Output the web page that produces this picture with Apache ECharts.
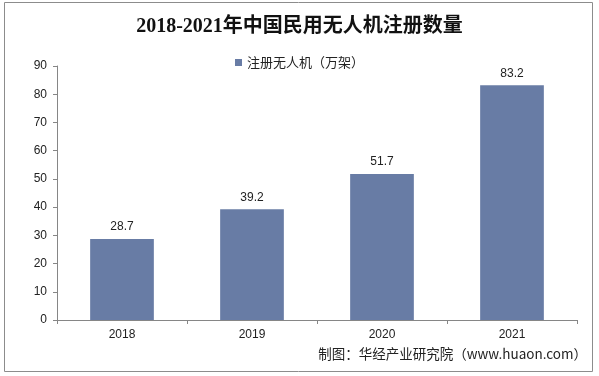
<!DOCTYPE html>
<html>
<head>
<meta charset="utf-8">
<script src="https://cdn.jsdelivr.net/npm/echarts@6/dist/echarts.min.js"></script>
<style>
  html, body { margin: 0; padding: 0; background: #fff; }
  #chart-container { width: 599px; height: 376px; }
</style>
</head>
<body>
<div id="chart-container"></div>
<script>
var years = ['2018', '2019', '2020', '2021'];
var registered = [28.7, 39.2, 51.7, 83.2];
var seriesName = '注册无人机（万架）';
var titleText = '2018-2021年中国民用无人机注册数量';
var sourceText = '制图：华经产业研究院（www.huaon.com）';

var dom = document.getElementById('chart-container');
var myChart = echarts.init(dom, null, { renderer: 'canvas' });

var option = {
  animation: false,
  title: {
    text: titleText,
    left: 'center',
    top: 12,
    textStyle: {
      fontFamily: 'Liberation Serif, Noto Sans CJK SC',
      fontSize: 20,
      fontWeight: 'bold',
      color: '#111'
    }
  },
  legend: {
    data: [seriesName],
    top: 51,
    left: 'center',
    itemWidth: 7,
    itemHeight: 7,
    itemGap: 4,
    icon: 'rect',
    textStyle: { fontSize: 13, color: '#222', fontFamily: 'Noto Sans CJK SC' }
  },
  grid: {
    left: 57,
    right: 22,
    top: 66,
    bottom: 56
  },
  xAxis: {
    type: 'category',
    data: years,
    axisLine: { lineStyle: { color: '#868686' } },
    axisTick: { show: true, length: 4, lineStyle: { color: '#868686' } },
    axisLabel: { fontSize: 12, color: '#222', margin: 9, fontFamily: 'Liberation Sans' }
  },
  yAxis: {
    type: 'value',
    min: 0,
    max: 90,
    interval: 10,
    axisLine: { show: true, lineStyle: { color: '#868686' } },
    axisTick: { show: true, length: 4, lineStyle: { color: '#868686' } },
    splitLine: { show: false },
    axisLabel: { fontSize: 12, color: '#222', margin: 10, fontFamily: 'Liberation Sans' }
  },
  series: [
    {
      name: seriesName,
      type: 'bar',
      data: registered,
      barWidth: '49%',
      itemStyle: { color: '#687ca5' },
      label: {
        show: true,
        position: 'top',
        distance: 6,
        fontSize: 12,
        color: '#222',
        fontFamily: 'Liberation Sans'
      }
    }
  ],
  graphic: [
    {
      type: 'rect',
      shape: { x: 4.5, y: 2.5, width: 588, height: 369 },
      style: { fill: 'none', stroke: '#8c8c8c', lineWidth: 1 },
      silent: true
    },
    {
      type: 'text',
      right: 12,
      top: 347,
      style: {
        text: sourceText,
        fontSize: 13.5,
        fill: '#222',
        fontFamily: 'Noto Sans CJK SC'
      }
    }
  ]
};

myChart.setOption(option);
window.addEventListener('resize', myChart.resize);
</script>
</body>
</html>
